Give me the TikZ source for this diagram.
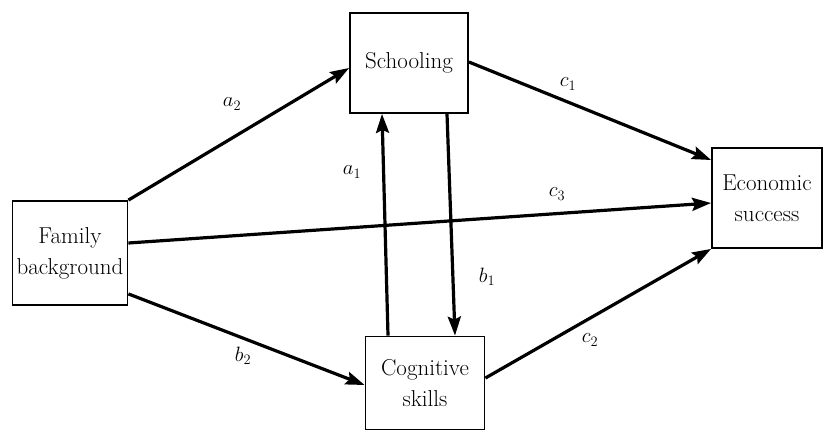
\documentclass[tikz,border=0pt]{standalone}
\usetikzlibrary{arrows.meta}
\begin{document}
\begin{tikzpicture}[x=1pt,y=-1pt,
  box/.style={draw, line width=1.8pt, align=center, font=\fontsize{23}{31}\selectfont, inner sep=0pt},
  arr/.style={line width=3.2pt, -{Stealth[length=19pt,width=13pt,inset=3pt]}},
  lab/.style={font=\fontsize{22}{26}\selectfont}]
\useasboundingbox (0,0) rectangle (829,432);
\node[box, minimum width=115pt, minimum height=104pt] (fam) at (70,253) {Family\\background};
\node[box, minimum width=118pt, minimum height=100pt] (sch) at (409,63) {Schooling};
\node[box, minimum width=110pt, minimum height=100pt] (eco) at (767,198) {Economic\\success};
\node[box, minimum width=119pt, minimum height=93pt] (cog) at (425,383) {Cognitive\\skills};
\draw[arr] (fam.north east) -- ([yshift=-5pt]sch.west);
\draw[arr] ([yshift=12pt]fam.south east) -- ([yshift=-2pt]cog.west);
\draw[arr] ([yshift=10pt]fam.east) -- ([yshift=-5pt]eco.west);
\draw[arr] ([yshift=1pt]sch.east) -- ([yshift=38pt]eco.west);
\draw[arr] ([yshift=5pt]cog.east) -- (eco.south west);
\draw[arr] ([xshift=-37pt]cog.north) -- ([xshift=-27pt]sch.south);
\draw[arr] ([xshift=38pt]sch.south) -- ([xshift=30pt]cog.north);
\node[lab] (la2) at (232,104) {$a_2$};
\node[lab] (lc1) at (568,84) {$c_1$};
\node[lab] (lc3) at (557,194) {$c_3$};
\node[lab] (lb2) at (243,356) {$b_2$};
\node[lab] (lc2) at (590,340) {$c_2$};
\node[lab] (la1) at (352,172) {$a_1$};
\node[lab] (lb1) at (487,277) {$b_1$};
\end{tikzpicture}
\end{document}
